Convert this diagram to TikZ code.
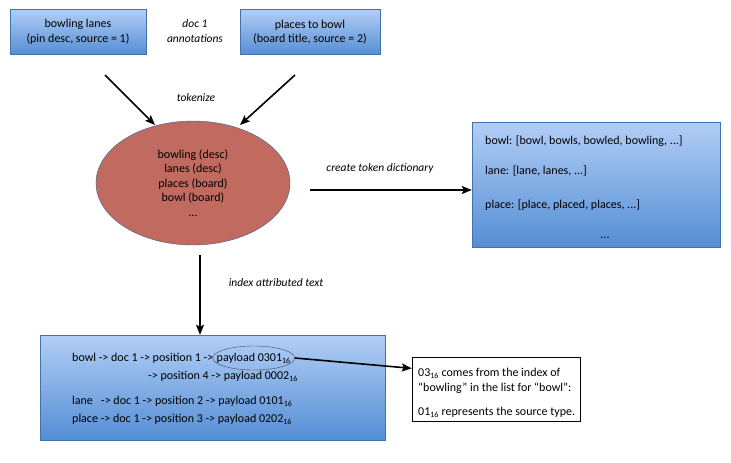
\documentclass[tikz,border=0pt]{standalone}
\usepackage{fontspec}
\setmainfont{Carlito}
\usetikzlibrary{shapes.geometric,positioning,arrows.meta}
\definecolor{boxtop}{RGB}{178,206,246}
\definecolor{boxbot}{RGB}{84,142,212}
\definecolor{blobred}{RGB}{192,106,96}
\tikzset{
  bluebox/.style={draw=boxbot!80!black, top color=boxtop, bottom color=boxbot, inner sep=0pt},
  flow/.style={-{Stealth[length=10pt,width=8pt,inset=2pt]}, line width=1.6pt},
  tag/.style={font=\itshape\fontsize{11.5}{15}\selectfont},
  txt/.style={font=\fontsize{12}{14.5}\selectfont, inner sep=0pt}
}
\begin{document}
\begin{tikzpicture}[x=1pt,y=-1pt]
\useasboundingbox (0,0) rectangle (731,463);
% source annotations
\node[bluebox, minimum width=136, minimum height=45, align=center, txt] (lanes) at (78,32) {bowling lanes\\(pin desc, source = 1)};
\node[bluebox, minimum width=140, minimum height=45, align=center, txt] (places) at (310,32) {places to bowl\\(board title, source = 2)};
\node[tag, align=center] (doc) at (195,31) {doc 1\\annotations};
% tokens
\node[ellipse, draw=boxbot!70!black, fill=blobred, minimum width=194, minimum height=124, align=center, txt] (tokens) at (193,183)
  {bowling (desc)\\lanes (desc)\\places (board)\\bowl (board)\\...};
\coordinate (lanesout) at (105,75);
\coordinate (placesout) at (295,75);
\draw[flow] (lanesout) -- (155,125);
\draw[flow] (placesout) -- (240,125);
\node[tag] (tok) at (196,98) {tokenize};
% dictionary
\node[bluebox, minimum width=248, minimum height=125] (dict) at (596,184.5) {};
\node[txt, anchor=west] (d1) at (485,141) {bowl: [bowl, bowls, bowled, bowling, ...]};
\node[txt, anchor=west] (d2) at (485,171) {lane: [lane, lanes, ...]};
\node[txt, anchor=west] (d3) at (485,205) {place: [place, placed, places, ...]};
\node[txt] (d4) at (605,238) {...};
\coordinate (dictin) at (310,190);
\draw[flow] (dictin) -- (dict.west|-dictin);
\node[tag] (dictlbl) at (380,168) {create token dictionary};
% index
\node[bluebox, minimum width=345, minimum height=105] (index) at (212.5,387.5) {};
\coordinate (tokout) at (200,255);
\draw[flow] (tokout) -- (index.north-|tokout);
\node[tag] (idxlbl) at (276,283) {index attributed text};
\node[txt, anchor=west] (i1) at (72,358) {bowl -> doc 1 -> position 1 ->};
\node[txt, right=3pt of i1] (pay) {payload 0301\textsubscript{16}};
\node[txt, anchor=west] (i2) at (148,376) {-> position 4 -> payload 0002\textsubscript{16}};
\node[txt, anchor=west] (i3) at (72,401) {lane\ \ \ -> doc 1 -> position 2 -> payload 0101\textsubscript{16}};
\node[txt, anchor=west] (i4) at (72,419) {place -> doc 1 -> position 3 -> payload 0202\textsubscript{16}};
\node[ellipse, draw=black!70, minimum width=82, minimum height=24] (oval) at (pay) {};
% note
\node[draw, fill=white, minimum width=168, minimum height=64] (note) at (496,389) {};
\node[txt, anchor=west, align=left] (n1) at (418,381) {03\textsubscript{16} comes from the index of\\“bowling” in the list for “bowl”:};
\node[txt, anchor=west] (n2) at (418,412) {01\textsubscript{16} represents the source type.};
\draw[flow] (oval.east) -- (note.west|-n1.north);
\end{tikzpicture}
\end{document}
